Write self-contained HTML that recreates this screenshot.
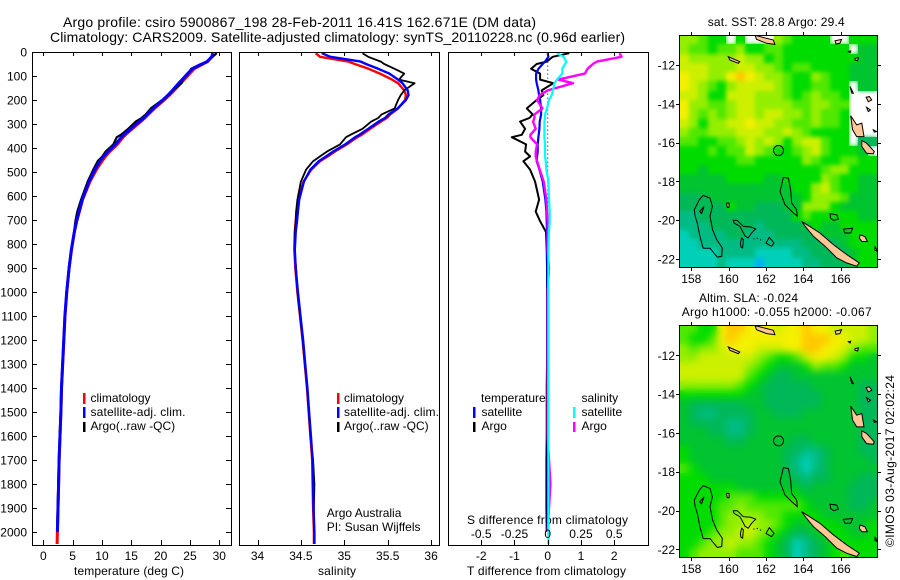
<!DOCTYPE html>
<html lang="en">
<head>
<meta charset="utf-8">
<title>Argo profile csiro 5900867_198</title>
<style>
html,body{margin:0;padding:0;background:#fff;width:900px;height:580px;overflow:hidden}
svg{display:block;font-family:"Liberation Sans",sans-serif;font-size:12px;fill:#000}
text{fill:#000;stroke:none}
</style>
</head>
<body>
<svg id="chart" xmlns="http://www.w3.org/2000/svg" width="900" height="580" viewBox="0 0 900 580">
<defs>
<filter id="soft-sst" x="-5%" y="-5%" width="110%" height="110%" color-interpolation-filters="sRGB"><feGaussianBlur in="SourceGraphic" stdDeviation="2" result="b"/><feMerge><feMergeNode in="SourceGraphic"/><feMergeNode in="b"/></feMerge></filter>
<filter id="soft-sla" x="-5%" y="-5%" width="110%" height="110%" color-interpolation-filters="sRGB"><feGaussianBlur in="SourceGraphic" stdDeviation="4" result="b"/><feMerge><feMergeNode in="SourceGraphic"/><feMergeNode in="b"/></feMerge></filter>
</defs>
<rect width="900" height="580" fill="#fff"/>
<text x="63" y="27" font-size="14" textLength="473" lengthAdjust="spacing">Argo profile: csiro 5900867_198 28-Feb-2011 16.41S 162.671E (DM data)</text>
<text x="50" y="42" font-size="14" textLength="575" lengthAdjust="spacing">Climatology: CARS2009. Satellite-adjusted climatology: synTS_20110228.nc (0.96d earlier)</text>

<text x="74" y="575" textLength="110" lengthAdjust="spacing">temperature (deg C)</text>
<text x="318" y="575" textLength="38" lengthAdjust="spacing">salinity</text>
<text x="467" y="575" textLength="159" lengthAdjust="spacing">T difference from climatology</text>
<text x="467" y="524" textLength="161" lengthAdjust="spacing">S difference from climatology</text>

<g>
<rect x="83" y="393" width="2.5" height="11" fill="#f00"/>
<text x="90.5" y="402">climatology</text>
<rect x="83" y="407" width="2.5" height="11" fill="#00f"/>
<text x="90.5" y="416" textLength="95" lengthAdjust="spacing">satellite-adj. clim.</text>
<rect x="83" y="422" width="2.5" height="10" fill="#000"/>
<text x="90.5" y="430">Argo(..raw -QC)</text>
</g>
<g>
<rect x="337" y="393" width="2.5" height="11" fill="#f00"/>
<text x="344" y="402">climatology</text>
<rect x="337" y="407" width="2.5" height="11" fill="#00f"/>
<text x="344" y="416" textLength="95" lengthAdjust="spacing">satellite-adj. clim.</text>
<rect x="337" y="422" width="2.5" height="10" fill="#000"/>
<text x="344" y="430">Argo(..raw -QC)</text>
</g>
<text x="326.7" y="517">Argo Australia</text>
<text x="326.7" y="531">PI: Susan Wijffels</text>

<g id="top-layer">
<text x="481" y="402">temperature</text>
<rect x="473" y="407" width="2.5" height="11" fill="#00f"/>
<text x="481.5" y="416">satellite</text>
<rect x="473" y="422" width="2.5" height="10" fill="#000"/>
<text x="481.5" y="430">Argo</text>
<text x="581.5" y="402">salinity</text>
<rect x="573" y="407" width="2.5" height="11" fill="#0ff"/>
<text x="581.5" y="416">satellite</text>
<rect x="573" y="422" width="2.5" height="10" fill="#f0f"/>
<text x="581.5" y="430">Argo</text>
</g>

<text x="707.7" y="26" textLength="137" lengthAdjust="spacing">sat. SST: 28.8 Argo: 29.4</text>
<text x="699" y="302" textLength="99" lengthAdjust="spacing">Altim. SLA: -0.024</text>
<text x="681.7" y="316" textLength="190" lengthAdjust="spacing">Argo h1000: -0.055 h2000: -0.067</text>
<text transform="translate(894 547) rotate(-90)" textLength="172" lengthAdjust="spacing">©IMOS 03-Aug-2017 02:02:24</text>
</svg>

<script>
// ---------- profile data ----------
const depths = [5,20,40,50,70,90,115,130,160,180,200,235,260,275,290,320,345,355,385,415,435,455,490,540,615,665,705,750,825,900,1000,1100,1200,1300,1400,1500,1600,1700,1800,1900,2000,2050];
const climTemp = [28.9,28.7,28.0,27.2,25.7,24.95,24.0,23.4,22.3,21.5,20.6,18.95,17.9,17.3,16.6,15.15,14,13.6,12.6,11.3,10.6,10.0,9.05,7.95,6.7,6.15,5.7,5.3,4.8,4.4,4.0,3.7,3.5,3.3,3.1,3.0,2.85,2.7,2.6,2.5,2.4,2.35];
const climSal = [34.67,34.72,35.05,35.12,35.28,35.41,35.55,35.62,35.69,35.71,35.70,35.62,35.53,35.49,35.42,35.30,35.20,35.15,35.03,34.89,34.81,34.72,34.62,34.53,34.47,34.45,34.44,34.43,34.425,34.435,34.46,34.49,34.52,34.545,34.57,34.59,34.61,34.63,34.635,34.64,34.65,34.65];
const satTempDiff = [0,0.02,-0.08,-0.15,-0.28,-0.35,-0.35,-0.33,-0.28,-0.26,-0.23,-0.2,-0.2,-0.22,-0.24,-0.25,-0.27,-0.28,-0.3,-0.3,-0.32,-0.33,-0.25,-0.15,-0.07,-0.04,-0.03,-0.02,-0.02,-0.01,-0.01,-0.01,-0.01,-0.01,0,0,0,0,0,0,0,null];
const argoTempDiff = [0.65,0.15,-0.03,-0.33,-0.5,-0.23,-0.23,0.17,-0.18,-0.13,-0.33,-0.63,-0.45,-0.55,-0.83,-0.68,-0.78,-1.08,-0.65,-0.68,-0.53,-0.73,-0.53,-0.38,-0.26,-0.36,-0.23,-0.05,-0.03,-0.02,-0.02,-0.02,-0.02,-0.02,-0.03,-0.03,-0.03,-0.04,-0.04,-0.04,-0.03,null];
const satSalDiff = [0.07,0.12,0.14,0.13,0.11,0.11,0.07,0.05,0.04,0.03,0.01,-0.005,-0.02,-0.02,-0.025,-0.025,-0.025,-0.025,-0.02,-0.02,-0.02,-0.015,-0.01,0.005,0.01,0.015,0.015,0.01,0.005,0.005,0.005,0.005,0.005,0.005,0.005,0.005,0.005,0.005,0.005,0.005,0.005,0.005];
const argoSalDiff = [0.54,0.555,0.37,0.34,0.30,0.28,0.08,0.19,0,-0.06,-0.08,-0.04,-0.1,-0.1,-0.11,-0.09,-0.13,-0.13,-0.08,-0.09,-0.09,-0.08,-0.06,-0.03,-0.01,-0.005,0,0,0,0.01,0,0,0,0,0,0,0,0.01,0.02,0.01,0,null];

// ---------- tick labels ----------
const depthTicks = [0,100,200,300,400,500,600,700,800,900,1000,1100,1200,1300,1400,1500,1600,1700,1800,1900,2000];
const tempTicks = [0,5,10,15,20,25,30];
const salTicks = [34,34.5,35,35.5,36];
const tDiffTicks = [-2,-1,0,1,2];
const sDiffTicks = [-0.5,-0.25,0,0.25,0.5];
const lonTicks = [158,160,162,164,166];
const latTicks = [-12,-14,-16,-18,-20,-22];

// ---------- map grids (0-a colour class, '.' missing) ----------
const sstRows = [
"77655.5...765555..555","766566755665555555.44","877777877565555555544","888777887765665555444","988779a98776557655444",
"987657888876556655.44","887558887776567665...","977667887777667766...","976767887887767665...","875778898877667665...",
"766777888778765555...","665566787875788655.33","55565668765567865554.","555555665555576556655","554555555555555677555",
"444445555445555765544","444444444444557865544","333444444444457776444","333335443334477754444","223333333333565555544",
"222333332333345445555","122223322233333444555","112222222222233334555","111122221111223333455","111121110111122333455"];
const slaRows = [
"66559aa999899a9988887","65569a9999999aaa99887","7677899988899aa998766","778888887655689987554","888888876544457665444",
"888888865433444444444","777777654333334444433","555555544333333444433","433333344333333444433","432233334433344444433",
"433332234444444444433","444332234444444444433","444443344444334444433","544444444443322344433","544444444443212344443",
"654444444443212344444","555444444444323344433","555555444444434444333","555556665555544444333","555566766666654444334",
"555567777665555444444","555567787765445554445","555677887654334555445","556778776543123455555","567777666543123456555"];
const colourClasses = {"0":"#00b4f0","1":"#00d0b8","2":"#00bc84","3":"#00b858","4":"#00c430","5":"#00dc00","6":"#50e800","7":"#94ee00","8":"#ccf000","9":"#f4f000","a":"#ffc800"};

// ---------- geography: lon/lat outlines ----------
const reefs = [
 [[158.64,-18.72],[159,-18.86],[159.13,-19.29],[159,-19.8],[159.14,-20.49],[159.36,-21],[159.66,-21.43],[159.63,-21.86],[159.39,-21.9],[159,-21.45],[158.64,-21.45],[158.46,-20.83],[158.32,-20.15],[158.2,-19.77],[158.16,-19.46],[158.43,-18.95]],
 [[160.25,-20.01],[160.46,-20.01],[160.79,-20.32],[161.18,-20.35],[161.45,-20.45],[161.23,-20.66],[161.05,-20.91],[160.88,-20.82],[160.61,-20.32],[160.29,-20.15]],
 [[160.7,-20.92],[160.79,-21],[160.75,-21.43],[160.66,-21.38],[160.63,-21.18]],
 [[162.18,-20.88],[162.43,-21.18],[162.3,-21.35],[162,-21.18]],
 [[162.93,-17.8],[163.2,-17.83],[163.32,-18.43],[163.38,-19.12],[163.64,-19.46],[163.68,-19.8],[163.38,-19.54],[163.02,-19.2],[162.75,-18.52],[162.84,-18.17]],
 [[165.43,-19.67],[165.79,-19.72],[165.88,-19.94],[165.61,-20.01],[165.46,-19.89]],
 [[166.14,-20.46],[166.64,-20.41],[166.54,-20.66],[166.23,-20.66]],
 [[158.45,-19.55],[158.68,-19.3],[158.55,-19.65]],
 [[161.32,-20.95],[161.38,-20.97]],[[161.5,-20.92],[161.56,-20.94]],[[161.68,-21],[161.74,-21.02]]
];
const islands = [
 [[163.91,-20.06],[164.27,-20.28],[164.89,-20.66],[165.61,-21.26],[166.32,-21.77],[167,-22.2],[166.86,-22.37],[166.32,-22.2],[165.79,-21.94],[165.16,-21.34],[164.54,-20.83],[164.18,-20.41]],
 [[167.04,-20.75],[167.3,-20.84],[167.43,-21.1],[167.13,-21.1],[167,-20.92]],
 [[167.84,-21.35],[167.96,-21.6],[167.84,-21.55]],
 [[166.54,-14.62],[166.86,-15.09],[167.13,-15],[167.25,-15.69],[166.86,-15.69],[166.64,-15.34]],
 [[167.13,-15.89],[167.39,-16.03],[167.8,-16.46],[167.75,-16.58],[167.39,-16.55],[167.13,-16.2]],
 [[167.39,-14.18],[167.6,-14.32],[167.48,-14.4]],
 [[167.36,-13.66],[167.48,-13.89],[167.66,-13.8],[167.54,-13.63]],
 [[166.5,-13.11],[166.68,-13.46],[166.6,-13.46]],
 [[167.75,-15.34],[167.93,-15.43],[167.8,-15.46]],
 [[161.41,-10.47],[162.39,-10.71],[162.48,-10.94],[162.04,-10.88],[161.5,-10.68]],
 [[165.7,-10.75],[166.05,-10.68],[165.96,-10.88],[165.75,-10.92]],
 [[159.98,-11.57],[160.6,-11.83],[160.52,-11.91],[160.07,-11.74]],
 [[166.77,-11.66],[166.95,-11.62],[166.91,-11.78],[166.77,-11.74]],
 [[166.41,-11.3],[166.54,-11.28],[166.5,-11.37]],
 [[159.89,-19.12],[160.02,-19.12],[160.02,-19.34],[159.93,-19.34]]
];
const argoLon = 162.671;
const argoLat = -16.41;

// ---------- helpers ----------
const NS = "http://www.w3.org/2000/svg";
const svg = document.getElementById("chart");
const topLayer = document.getElementById("top-layer");
function mk(tag, attrs, parent){
  const e = document.createElementNS(NS, tag);
  for (const k in attrs) e.setAttribute(k, attrs[k]);
  if (parent) parent.appendChild(e); else svg.insertBefore(e, topLayer);
  return e;
}
function tickLine(x1,y1,x2,y2,parent){
  return mk("line",{x1:x1,y1:y1,x2:x2,y2:y2,stroke:"#000","stroke-width":1,"shape-rendering":"crispEdges"},parent);
}

// ---------- axis functions ----------
const depthY = d => 52 + 0.24*d;
const tempX = v => 43.3 + 5.867*v;
const salX = v => 344.3 + 86.8*(v-35);
const tDiffX = v => 547.7 + 33.25*v;
const sDiffX = v => 547.7 + 133*v;

const panels = [
 {name:"temperature-panel", l:32, r:231},
 {name:"salinity-panel", l:239, r:439},
 {name:"difference-panel", l:448, r:648}
];
const PT = 52, PB = 545;

function profileLine(parent, xs, scale, color, width, name){
  const pts = [];
  xs.forEach((v,i)=>{ if(v!==null) pts.push(scale(v).toFixed(1)+","+depthY(depths[i]).toFixed(1)); });
  const el = mk("polyline",{points:pts.join(" "),fill:"none",stroke:color,"stroke-width":width,"stroke-linejoin":"round"},parent);
  
  
  return el;
}
const add = (a,b) => a.map((v,i)=> b[i]===null ? null : v+b[i]);

panels.forEach(p=>{
  const g = mk("g",{});
  
  
  p.g = g;
});

// temperature profiles
profileLine(panels[0].g, climTemp, tempX, "#f00", 3, "climatology-temperature-line");
profileLine(panels[0].g, add(climTemp,argoTempDiff), tempX, "#000", 2.2, "argo-temperature-line");
profileLine(panels[0].g, add(climTemp,satTempDiff), tempX, "#00f", 3, "satellite-temperature-line");

// salinity profiles
profileLine(panels[1].g, climSal, salX, "#f00", 2.4, "climatology-salinity-line");
profileLine(panels[1].g, add(climSal,argoSalDiff), salX, "#000", 1.8, "argo-salinity-line");
profileLine(panels[1].g, add(climSal,satSalDiff), salX, "#00f", 2.4, "satellite-salinity-line");

// difference profiles
const zeroLine = mk("line",{x1:tDiffX(0),x2:tDiffX(0),y1:depthY(40),y2:depthY(700),stroke:"#000","stroke-width":1,"stroke-dasharray":"1 3"},panels[2].g);


profileLine(panels[2].g, argoTempDiff, tDiffX, "#000", 2, "argo-t-difference-line");
profileLine(panels[2].g, satTempDiff, tDiffX, "#00f", 2.2, "satellite-t-difference-line");
profileLine(panels[2].g, argoSalDiff, sDiffX, "#f0f", 2.4, "argo-s-difference-line");
profileLine(panels[2].g, satSalDiff, sDiffX, "#0ff", 2.2, "satellite-s-difference-line");

// frames
panels.forEach(p=>{
  const f = mk("rect",{x:p.l+.5,y:PT+.5,width:p.r-p.l,height:PB-PT,fill:"none",stroke:"#000","stroke-width":1,"shape-rendering":"crispEdges"},p.g);
  
  
});

// depth axis
depthTicks.forEach(d=>{
  const y = Math.round(depthY(d))+.5;
  const t1 = tickLine(32,y,37,y,panels[0].g);
  
  
  const t2 = tickLine(226,y,231,y,panels[0].g);
  
  
  const lab = mk("text",{x:27,y:depthY(d)+4.5,"text-anchor":"end"},panels[0].g);
  lab.textContent = d;
  
  
});

// x axes
function xAxis(ticks, scale, parent, baseline, name, drawTicks){
  ticks.forEach(v=>{
    const x = Math.round(scale(v))+.5;
    if(drawTicks){
      const tb = tickLine(x,PB-5,x,PB,parent);
      
      
      const tt = tickLine(x,PT,x,PT+4,parent);
      
      
    }
    const lab = mk("text",{x:scale(v),y:baseline,"text-anchor":"middle"},parent);
    lab.textContent = v;
    
    
  });
}
xAxis(tempTicks,tempX,panels[0].g,560,"temperature",true);
xAxis(salTicks,salX,panels[1].g,560,"salinity",true);
xAxis(tDiffTicks,tDiffX,panels[2].g,560,"t-difference",true);
xAxis(sDiffTicks,sDiffX,panels[2].g,538,"s-difference",false);

// ---------- maps ----------
const LON0 = 157.36, LON1 = 167.96;
function drawMap(cfg){
  const lonX = v => 691.3 + 18.67*(v-158);
  const latY = v => cfg.y12 + 19.4*(-12-v);
  const g = mk("g",{});
  
  
  const cid = cfg.name+"-clip";
  const cp = mk("clipPath",{id:cid},g);
  mk("rect",{x:679,y:cfg.top,width:198,height:cfg.bottom-cfg.top},cp);
  const inner = mk("g",{"clip-path":"url(#"+cid+")"},g);
  const cellLayer = mk("g",{filter:"url(#"+cfg.soft+")"},inner);
  const nr = cfg.rows.length;
  const latTop = -12+(cfg.y12-cfg.top)/19.4;
  const latBot = -12+(cfg.y12-cfg.bottom)/19.4;
  cfg.rows.forEach((row,j)=>{
    const y0 = Math.round(latY(latTop+(latBot-latTop)*j/nr));
    const y1 = Math.round(latY(latTop+(latBot-latTop)*(j+1)/nr));
    for(let i=0;i<row.length;i++){
      const c = colourClasses[row[i]];
      if(!c) continue;
      const x0 = Math.round(lonX(LON0+(LON1-LON0)*i/row.length));
      const x1 = Math.round(lonX(LON0+(LON1-LON0)*(i+1)/row.length));
      const cell = mk("rect",{x:x0,y:y0,width:x1-x0,height:y1-y0,fill:c,"shape-rendering":"crispEdges"},cellLayer);
      
      
    }
  });
  const toPts = s => s.map(p=>lonX(p[0]).toFixed(1)+","+latY(p[1]).toFixed(1)).join(" ");
  reefs.forEach(s=>{
    const r = mk("polygon",{points:toPts(s),fill:"none",stroke:"#000","stroke-width":1},inner);
    
    
  });
  islands.forEach(s=>{
    const r = mk("polygon",{points:toPts(s),fill:"#ffc896",stroke:"#000","stroke-width":1},inner);
    
    
  });
  const pos = mk("circle",{cx:lonX(argoLon),cy:latY(argoLat),r:5,fill:"none",stroke:"#000","stroke-width":1},inner);
  
  
  const fr = mk("rect",{x:679.5,y:cfg.top+.5,width:198,height:cfg.bottom-cfg.top,fill:"none",stroke:"#000","stroke-width":1,"shape-rendering":"crispEdges"},g);
  
  
  lonTicks.forEach(v=>{
    const x = Math.round(lonX(v))+.5;
    const a = tickLine(x,cfg.top-3,x,cfg.top,g);
    
    
    const b = tickLine(x,cfg.bottom,x,cfg.bottom+4,g);
    
    
    const lab = mk("text",{x:lonX(v),y:cfg.bottom+16,"text-anchor":"middle"},g);
    lab.textContent = v;
    
    
  });
  latTicks.forEach(v=>{
    const y = Math.round(latY(v))+.5;
    const a = tickLine(676,y,679,y,g);
    
    
    const b = tickLine(878,y,881,y,g);
    
    
    const lab = mk("text",{x:675,y:latY(v)+4.5,"text-anchor":"end"},g);
    lab.textContent = v;
    
    
  });
}
drawMap({name:"sst-map",rows:sstRows,top:35,bottom:267,y12:65,soft:"soft-sst"});
drawMap({name:"sla-map",rows:slaRows,top:325,bottom:557,y12:355.3,soft:"soft-sla"});
</script>
</body>
</html>
